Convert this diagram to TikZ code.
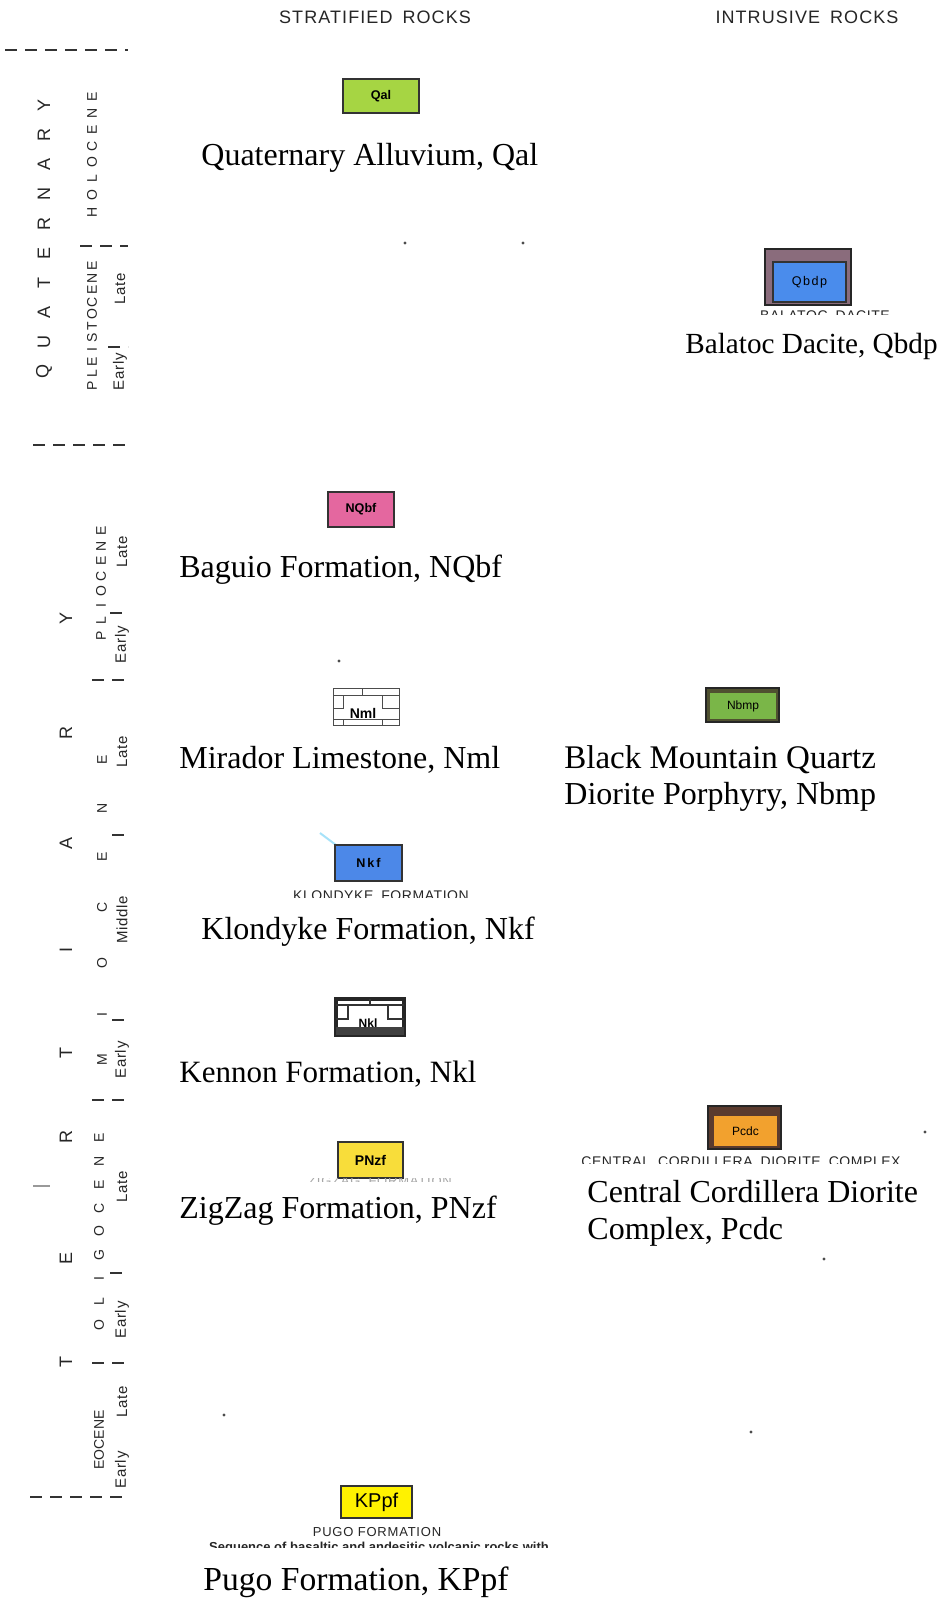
\documentclass[tikz,border=0pt]{standalone}
\usepackage{fontspec}
\setmainfont{Liberation Serif}
\setsansfont{Liberation Sans}
\usetikzlibrary{positioning}

\definecolor{qalgreen}{HTML}{A6D543}
\definecolor{dacblue}{HTML}{4A8CEC}
\definecolor{dacframe}{HTML}{8A6C7C}
\definecolor{bagpink}{HTML}{E4679F}
\definecolor{klnblue}{HTML}{4C88E8}
\definecolor{bmpgreen}{HTML}{7AB648}
\definecolor{bmpframe}{HTML}{4F5030}
\definecolor{zigyellow}{HTML}{F8DD3A}
\definecolor{cdcorange}{HTML}{F2A12E}
\definecolor{cdcframe}{HTML}{5B3B2E}
\definecolor{pugyellow}{HTML}{FFF200}

\begin{document}
\begin{tikzpicture}[x=0.5pt, y=-0.5pt,
  unit/.style={draw=black!80, line width=0.8pt, inner sep=0pt,
               font=\sffamily\bfseries\fontsize{6.3}{7}\selectfont},
  frame/.style={draw=black!85, line width=0.8pt, inner sep=0pt},
  caption/.style={anchor=base west, inner sep=0pt, font=\fontsize{16}{18}\selectfont},
  head/.style={inner sep=0pt, text=black!85,
               font=\sffamily\fontsize{9}{10}\selectfont\addfontfeature{LetterSpace=6}},
  era/.style={rotate=90, inner sep=0pt, text=black!85, font=\sffamily\fontsize{9}{10}\selectfont},
  epoch/.style={rotate=90, inner sep=0pt, text=black!85, font=\sffamily\fontsize{7}{8}\selectfont},
  sub/.style={rotate=90, inner sep=0pt, text=black!85,
              font=\sffamily\fontsize{7.5}{8}\selectfont\addfontfeature{LetterSpace=5}},
  bound/.style={line width=1.4pt, dash pattern=on 6pt off 4pt, black!80},
  cut/.style={inner sep=0pt, text=black!85,
              font=\sffamily\fontsize{7}{8}\selectfont\addfontfeature{LetterSpace=4}},
  speck/.style={circle, fill=black!70, inner sep=0pt, minimum size=1.6pt},
  ]
  \fill[white] (0,0) rectangle (938,1598);
  \useasboundingbox (0,0) rectangle (938,1598);

  % column heads
  \node[head] (strat) at (375,17) {STRATIFIED\hspace{5pt}ROCKS};
  \node[head] (intr) at (807,17) {INTRUSIVE\hspace{5pt}ROCKS};

  % time scale: Quaternary
  \draw[bound] (5,50) -- (128,50);
  \foreach \ch [count=\i] in {Q,U,A,T,E,R,N,A,R,Y}
    \node[era] (qa\i) at (44,{372-(\i-1)*29.6}) {\ch};
  \foreach \ch [count=\i] in {H,O,L,O,C,E,N,E}
    \node[epoch] (ho\i) at (92,{212-(\i-1)*16.5}) {\ch};
  \draw[bound] (80,246) -- (128,246);
  \foreach \ch [count=\i] in {P,L,E,I,S,T,O,C,E,N,E}
    \node[epoch] (ps\i) at (92,{386-(\i-1)*12}) {\ch};
  \node[sub] (psLate) at (120,289) {Late};
  \draw[bound] (108,347) -- (128,347);
  \node[sub] (psEarly) at (120,372) {Early};
  \draw[bound] (33,445) -- (128,445);

  % time scale: Tertiary
  \foreach \ch/\y [count=\i] in {T/1362,E/1258,R/1137,T/1053,I/950,A/843,R/733,Y/618}
    \node[era] (te\i) at (66,\y) {\ch};
  \foreach \ch [count=\i] in {P,L,I,O,C,E,N,E}
    \node[epoch] (pl\i) at (101,{636-(\i-1)*15}) {\ch};
  \node[sub] (plLate) at (122,552) {Late};
  \draw[bound] (110,613) -- (128,613);
  \node[sub] (plEarly) at (122,645) {Early};
  \draw[bound] (92,680) -- (128,680);
  \foreach \ch/\y [count=\i] in {M/1060,I/1015,O/963,C/907,E/857,N/808,E/760}
    \node[epoch] (mi\i) at (102,\y) {\ch};
  \node[sub] (miLate) at (122,752) {Late};
  \draw[bound] (112,835) -- (128,835);
  \node[sub] (miMiddle) at (122,920) {Middle};
  \draw[bound] (112,1020) -- (128,1020);
  \node[sub] (miEarly) at (122,1060) {Early};
  \draw[bound] (92,1100) -- (128,1100);
  \foreach \ch [count=\i] in {O,L,I,G,O,C,E,N,E}
    \node[epoch] (ol\i) at (99,{1325-(\i-1)*23.4}) {\ch};
  \node[sub] (olLate) at (122,1187) {Late};
  \draw[bound] (110,1273) -- (128,1273);
  \node[sub] (olEarly) at (122,1320) {Early};
  \draw[bound] (92,1363) -- (128,1363);
  \node[epoch] (eoc) at (99,1440) {EOCENE};
  \node[sub] (eoLate) at (122,1402) {Late};
  \node[sub] (eoEarly) at (122,1470) {Early};
  \draw[bound] (30,1497) -- (128,1497);
  \draw[black!40, line width=0.6pt] (33,1186) -- (50,1186);

  % Quaternary Alluvium
  \node[unit, fill=qalgreen, minimum width=38pt, minimum height=17pt] (qal) at (381,96) {Qal};
  \node[caption] (qalT) at (201,166) {Quaternary Alluvium, Qal};

  % Balatoc Dacite
  \node[frame, fill=dacframe, minimum width=43pt, minimum height=28pt] (qbdpF) at (808,277) {};
  \node[unit, fill=dacblue, minimum width=36.5pt, minimum height=20pt,
        font=\sffamily\fontsize{6.3}{7}\selectfont\addfontfeature{LetterSpace=12}] (qbdp) at (809.5,282) {Qbdp};
  \begin{scope}
    \clip (740,300) rectangle (900,315);
    \node[cut] (qbdpS) at (825,316) {BALATOC\hspace{4pt}DACITE};
  \end{scope}
  \node[caption, font=\fontsize{14.6}{17}\selectfont] (qbdpT) at (685,354) {Balatoc Dacite, Qbdp};

  % Baguio Formation
  \node[unit, fill=bagpink, minimum width=33pt, minimum height=17.5pt] (nqbf) at (361,509.5) {NQbf};
  \node[caption] (nqbfT) at (179,577) {Baguio Formation, NQbf};

  % Mirador Limestone
  \node[frame, fill=white, draw=black!70, line width=0.5pt, minimum width=33pt, minimum height=18.5pt] (nml) at (366,706.5) {};
  \begin{scope}[shift={(nml.center)}, black!70, line width=0.5pt]
    \draw (-33,-11.5) -- (33,-11.5);
    \draw (-4,-18.5) -- (-4,-11.5);
    \draw (-23,-11.5) -- (-23,1.5) -- (-33,1.5);
    \draw (16,-11.5) -- (16,1.5) -- (33,1.5);
    \draw (-33,12.5) -- (33,12.5);
    \draw (-23,12.5) -- (-23,18.5);
    \draw (16,12.5) -- (16,18.5);
  \end{scope}
  \node[inner sep=0pt, font=\sffamily\bfseries\fontsize{7}{8}\selectfont] (nmlL) at (363,713) {Nml};
  \node[caption] (nmlT) at (179,768) {Mirador Limestone, Nml};

  % Black Mountain Quartz Diorite Porphyry
  \node[frame, fill=bmpframe, minimum width=36.5pt, minimum height=17pt] (nbmpF) at (742.5,705) {};
  \node[unit, fill=bmpgreen, draw=none, minimum width=33pt, minimum height=13pt,
        font=\sffamily\fontsize{6}{7}\selectfont] (nbmp) at (743,706) {Nbmp};
  \node[caption, font=\fontsize{16.5}{18}\selectfont] (nbmpT) at (564,768) {Black Mountain Quartz};
  \node[caption] (nbmpT2) at (564,804) {Diorite Porphyry, Nbmp};

  % Klondyke Formation
  \draw[cyan!35, line width=1pt] (320,833) -- (340,848);
  \node[unit, fill=klnblue, minimum width=33.5pt, minimum height=18pt,
        font=\sffamily\bfseries\fontsize{6.3}{7}\selectfont\addfontfeature{LetterSpace=15}] (nkf) at (368.5,863) {Nkf};
  \begin{scope}
    \clip (280,886) rectangle (480,897);
    \node[cut] (nkfS) at (381,896) {KLONDYKE\hspace{4pt}FORMATION};
  \end{scope}
  \node[caption] (nkfT) at (201,939) {Klondyke Formation, Nkf};

  % Kennon Formation
  \node[frame, fill=white, draw=black!85, line width=1.8pt, minimum width=34pt, minimum height=18pt] (nkl) at (370,1017) {};
  \begin{scope}[shift={(nkl.center)}, black!80, line width=0.7pt]
    \draw (-34,-12) -- (34,-12);
    \draw (0,-18) -- (0,-12);
    \draw (-22,-12) -- (-22,2) -- (-34,2);
    \draw (18,-12) -- (18,2) -- (34,2);
    \fill[black!75] (-34,10) rectangle (34,18);
  \end{scope}
  \node[inner sep=0pt, font=\sffamily\bfseries\fontsize{6}{7}\selectfont] (nklL) at (368,1023) {Nkl};
  \node[caption, font=\fontsize{15.5}{18}\selectfont] (nklT) at (179,1082) {Kennon Formation, Nkl};

  % ZigZag Formation
  \node[unit, fill=zigyellow, minimum width=32.5pt, minimum height=18pt,
        font=\sffamily\bfseries\fontsize{7}{8}\selectfont] (pnzf) at (370.5,1160) {PNzf};
  \begin{scope}
    \clip (300,1178) rectangle (460,1181);
    \node[cut, text=black!35, font=\sffamily\fontsize{6.5}{7}\selectfont\addfontfeature{LetterSpace=6}] (pnzfS) at (380,1181.5) {ZIGZAG\hspace{4pt}FORMATION};
  \end{scope}
  \node[caption] (pnzfT) at (179,1218) {ZigZag Formation, PNzf};

  % Central Cordillera Diorite Complex
  \node[frame, fill=cdcframe, minimum width=36.5pt, minimum height=21.5pt] (pcdcF) at (744.5,1127.5) {};
  \node[unit, fill=cdcorange, draw=none, minimum width=31.5pt, minimum height=15pt,
        font=\sffamily\fontsize{6}{7}\selectfont] (pcdc) at (745.5,1131) {Pcdc};
  \begin{scope}
    \clip (560,1152) rectangle (920,1163);
    \node[cut] (pcdcS) at (741,1162) {CENTRAL\hspace{4pt}CORDILLERA\hspace{4pt}DIORITE\hspace{4pt}COMPLEX};
  \end{scope}
  \node[caption] (pcdcT) at (587,1202) {Central Cordillera Diorite};
  \node[caption] (pcdcT2) at (587,1239) {Complex, Pcdc};

  % Pugo Formation
  \node[unit, fill=pugyellow, minimum width=35.5pt, minimum height=16pt,
        font=\sffamily\fontsize{10}{11}\selectfont] (kppf) at (376.5,1502) {KPpf};
  \node[cut, font=\sffamily\fontsize{6.5}{7}\selectfont\addfontfeature{LetterSpace=6}] (kppfS) at (377,1532) {PUGO FORMATION};
  \begin{scope}
    \clip (190,1538) rectangle (570,1547.5);
    \node[cut, font=\sffamily\bfseries\fontsize{6.5}{7}\selectfont] (kppfD) at (379,1548) {Sequence of basaltic and andesitic volcanic rocks with};
  \end{scope}
  \node[caption, font=\fontsize{16.8}{19}\selectfont] (kppfT) at (203,1590) {Pugo Formation, KPpf};

  % specks of the scan
  \foreach \x/\y [count=\i] in {405/243,523/243,339/661,224/1415,925/1132,824/1259,751/1432}
    \node[speck] (sp\i) at (\x,\y) {};
\end{tikzpicture}
\end{document}
